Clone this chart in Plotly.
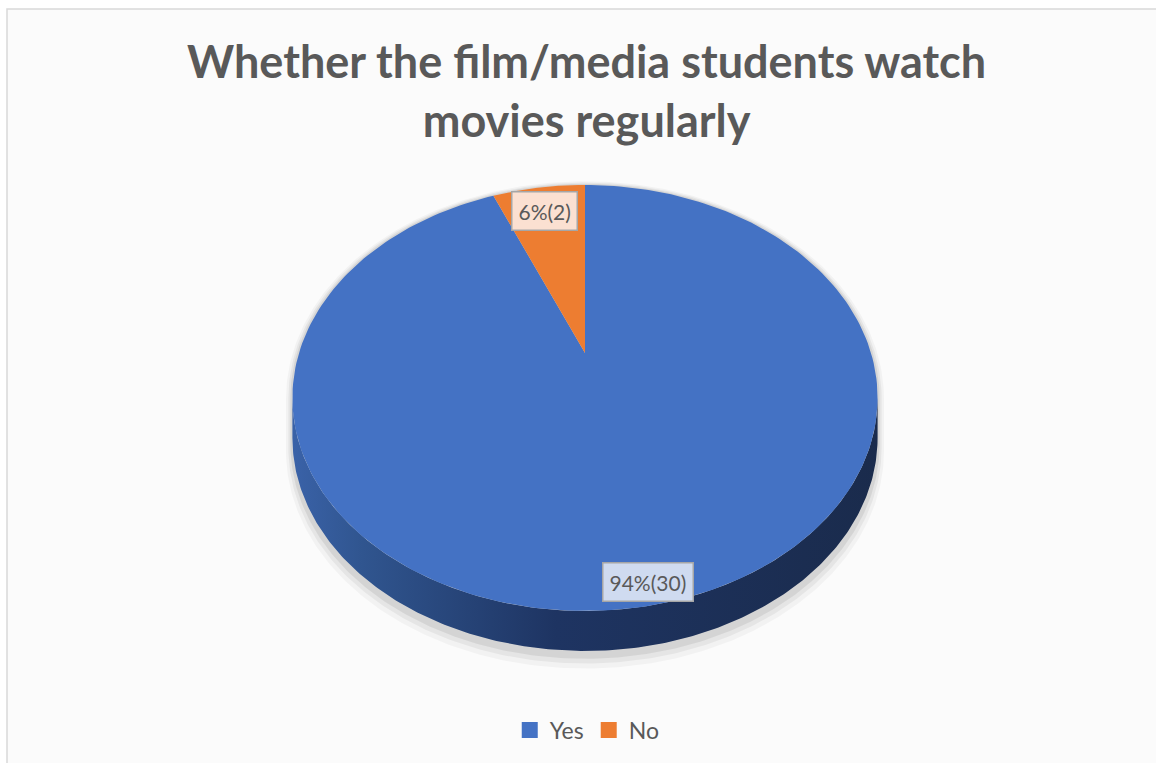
import math
import plotly.graph_objects as go

# ---------------- data ----------------
categories = ["Yes", "No"]
counts = [30, 2]
colors = ["#4472C4", "#ED7D31"]
label_fills = ["#CFDBF0", "#FBE0D1"]
title_text = "Whether the film/media students watch<br>movies regularly"

# ---------------- geometry (layout constants, pixel space) ----------------
W, H = 1156, 763
CX, CY = 585.0, 353.0      # projected pie centre
A, B = 286.0, 203.5        # horizontal / vertical radii before perspective
K = 0.211                  # perspective strength
DEPTH = 40.0               # thickness of the 3D side


def proj(theta_deg, r=1.0, dy=0.0, scale=1.0):
    t = math.radians(theta_deg)
    u = r * math.sin(t)
    v = r * math.cos(t)
    den = 1.0 + K * v
    x = CX + scale * A * u / den
    y = CY - scale * B * v / den + dy
    return x, y


def arc(a0, a1, n=240, dy=0.0, scale=1.0):
    pts = []
    for i in range(n + 1):
        a = a0 + (a1 - a0) * i / n
        pts.append(proj(a, dy=dy, scale=scale))
    return pts


total = sum(counts)
fracs = [c / total for c in counts]
starts, ends = [], []
acc = 0.0
for f in fracs:
    starts.append(acc * 360.0)
    acc += f
    ends.append(acc * 360.0)

# silhouette angles (where the rim is tangent to the view direction)
sil = math.degrees(math.acos(-K))          # right side
sil_l = 360.0 - sil                        # left side

fig = go.Figure()

# soft shadow under the pie
for s, dy, alpha in [(1.022, 12, 0.035), (1.014, 9, 0.05), (1.007, 6, 0.07)]:
    back = arc(sil_l - 360.0, sil, dy=0, scale=s)
    front = arc(sil, sil_l, dy=DEPTH + dy, scale=s)
    pts = back + front
    fig.add_trace(go.Scatter(
        x=[p[0] for p in pts], y=[p[1] for p in pts],
        mode="lines", fill="toself", line=dict(width=0),
        fillcolor=f"rgba(0,0,0,{alpha})", hoverinfo="skip", showlegend=False))

# 3D side (front rim) of the first slice
top = arc(sil, sil_l)
bot = arc(sil_l, sil, dy=DEPTH)
side = top + bot
fig.add_trace(go.Scatter(
    x=[p[0] for p in side], y=[p[1] for p in side],
    mode="lines", fill="toself", line=dict(width=0),
    fillgradient=dict(type="horizontal",
                      colorscale=[[0.0, "#3A62A8"], [0.12, "#30558F"],
                                  [0.45, "#1E3462"], [1.0, "#1A2B4C"]]),
    hoverinfo="skip", showlegend=False))

# top faces of the slices
for i, cat in enumerate(categories):
    pts = [proj(0, r=0)] + arc(starts[i], ends[i]) + [proj(0, r=0)]
    fig.add_trace(go.Scatter(
        x=[p[0] for p in pts], y=[p[1] for p in pts],
        mode="lines", fill="toself", line=dict(width=0, color=colors[i]),
        fillcolor=colors[i], hoverinfo="skip", showlegend=False))

# legend entries
for i, cat in enumerate(categories):
    fig.add_trace(go.Scatter(
        x=[None], y=[None], mode="markers", name=cat,
        marker=dict(symbol="square", size=16, color=colors[i]),
        showlegend=True))

# data labels
label_r = [0.92, 0.85]
for i, cat in enumerate(categories):
    mid = (starts[i] + ends[i]) / 2.0
    x, y = proj(mid, r=label_r[i])
    pct = round(fracs[i] * 100)
    fig.add_annotation(
        x=x, y=y + 2, xref="x", yref="y", showarrow=False,
        text=f"{pct}%({counts[i]})",
        font=dict(family="Lato, Open Sans, sans-serif", size=21, color="#595959"),
        bgcolor=label_fills[i], bordercolor="#A6A6A6", borderwidth=1.5, borderpad=6)

# title
fig.add_annotation(
    x=586, y=32, xref="x", yref="y", xanchor="center", yanchor="top",
    showarrow=False, text=title_text, align="center",
    font=dict(family="Lato, Open Sans, sans-serif", size=45, color="#595959", weight="bold"))

# chart area background + border
fig.add_shape(type="rect", xref="x", yref="y", x0=7, y0=9, x1=1200, y1=800,
              line=dict(color="#D9D9D9", width=1.5), fillcolor="#FBFBFB", layer="below")

fig.update_layout(
    width=W, height=H, autosize=False,
    margin=dict(l=0, r=0, t=0, b=0),
    paper_bgcolor="white", plot_bgcolor="white",
    xaxis=dict(range=[0, W], visible=False, fixedrange=True),
    yaxis=dict(range=[H, 0], visible=False, fixedrange=True),
    showlegend=True,
    legend=dict(orientation="h", x=0.508, xanchor="center", y=1 - 730 / H, yanchor="middle",
                font=dict(family="Lato, Open Sans, sans-serif", size=23, color="#595959"),
                bgcolor="rgba(0,0,0,0)", itemwidth=30),
)

fig.write_html("out.html")
